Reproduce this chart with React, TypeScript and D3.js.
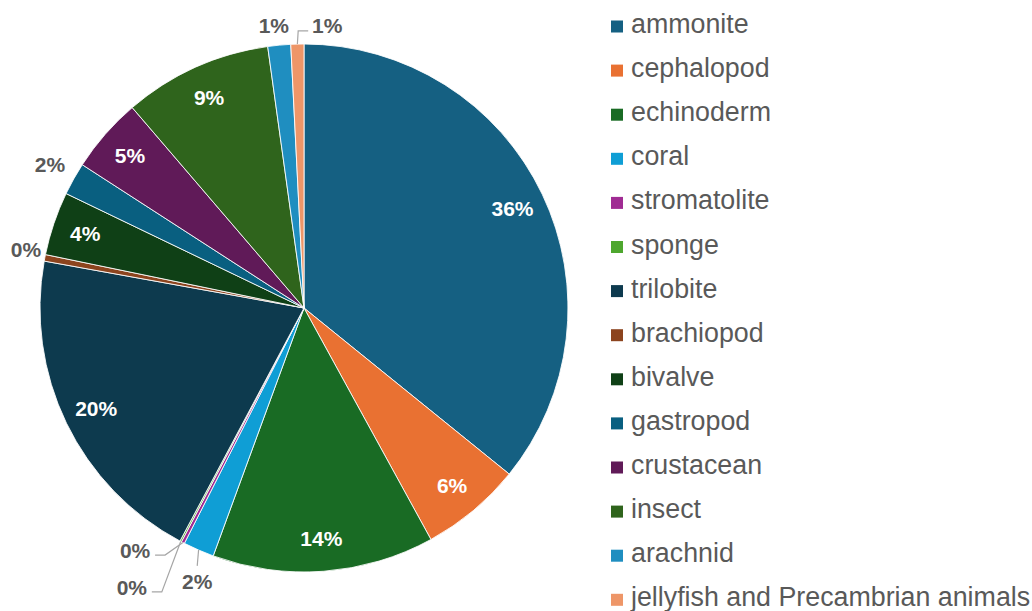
import React from "react";
import * as d3 from "d3";

// Fossil finds by group, in percent of all specimens
const categories = [
  "ammonite",
  "cephalopod",
  "echinoderm",
  "coral",
  "stromatolite",
  "sponge",
  "trilobite",
  "brachiopod",
  "bivalve",
  "gastropod",
  "crustacean",
  "insect",
  "arachnid",
  "jellyfish and Precambrian animals",
];

const shares = [35.9, 6.2, 13.6, 1.9, 0.2, 0.1, 20.1, 0.4, 3.9, 2.0, 4.6, 9.1, 1.4, 0.8];

const sliceColors = [
  "#156082",
  "#E97132",
  "#196B24",
  "#0F9ED5",
  "#A02B93",
  "#4EA72E",
  "#0D3A4E",
  "#8C441E",
  "#0F4016",
  "#095F80",
  "#601A58",
  "#2F641C",
  "#1F8EC0",
  "#EE9668",
];

// Label placement: null = inside the slice; otherwise polar spot (degrees clockwise from 12 o'clock, px from centre)
type Spot = { angle: number; dist: number; leader: boolean } | null;
const labelSpots: Spot[] = [
  null,
  null,
  null,
  { angle: 201.3, dist: 294, leader: true },
  { angle: 214.8, dist: 296, leader: true },
  { angle: 211.6, dist: 328.6, leader: true },
  null,
  { angle: 281.8, dist: 284, leader: false },
  null,
  { angle: 299.4, dist: 291.5, leader: false },
  null,
  null,
  { angle: 353.9, dist: 283.6, leader: false },
  { angle: 4.7, dist: 283, leader: true },
];

const W = 1032;
const H = 611;
const CX = 304;
const CY = 308;
const R = 264;
const INNER_LABEL_R = 231;
const FONT = "'Liberation Sans', Arial, Helvetica, sans-serif";
const GREY = "#595959";

type Datum = { name: string; value: number; color: string; spot: Spot };

const rows: Datum[] = categories.map((name, i) => ({
  name,
  value: shares[i],
  color: sliceColors[i],
  spot: labelSpots[i],
}));

const polar = (deg: number, dist: number): [number, number] => {
  const a = (deg * Math.PI) / 180;
  return [CX + dist * Math.sin(a), CY - dist * Math.cos(a)];
};

export default function App() {
  const total = d3.sum(rows, (d) => d.value);
  const pie = d3
    .pie<Datum>()
    .sort(null)
    .value((d) => d.value)
    .startAngle(0)
    .endAngle(2 * Math.PI);
  const arcs = pie(rows);
  const arc = d3.arc<d3.PieArcDatum<Datum>>().innerRadius(0).outerRadius(R);
  const fmt = (v: number) => `${Math.round((v / total) * 100)}%`;

  const legendY = d3
    .scalePoint<string>()
    .domain(categories)
    .range([33, 33 + 44.1 * (categories.length - 1)]);

  const halfW = 15;

  return (
    <div style={{ position: "absolute", left: 0, top: 0, width: W, height: H, background: "#fff" }}>
      <svg width={W} height={H} style={{ display: "block" }} fontFamily={FONT}>
        <rect width={W} height={H} fill="#fff" />
        <g transform={`translate(${CX},${CY})`}>
          {arcs.map((a, i) => (
            <path key={i} d={arc(a) || ""} fill={a.data.color} stroke="#fff" strokeWidth={1} strokeOpacity={0.85} />
          ))}
        </g>

        {/* value labels */}
        {arcs.map((a, i) => {
          const mid = ((a.startAngle + a.endAngle) / 2) * (180 / Math.PI);
          const spot = a.data.spot;
          if (!spot) {
            const [x, y] = polar(mid, INNER_LABEL_R);
            return (
              <text key={i} x={x} y={y} dy="0.35em" textAnchor="middle" fontSize={21} fontWeight="bold" fill="#fff">
                {fmt(a.data.value)}
              </text>
            );
          }
          const [lx, ly] = polar(spot.angle, spot.dist);
          let leader: React.ReactNode = null;
          if (spot.leader) {
            const [px, py] = polar(mid, R);
            let pts: [number, number][];
            if (Math.abs(lx - px) < halfW) {
              pts = [[lx, ly - 16], [px, py]];
            } else if (lx < px) {
              const ax = lx + halfW + 5;
              const ay = ly + 4;
              pts = [[ax, ay], [ax + 10, ay], [px, py]];
            } else {
              const ax = lx - halfW - 4;
              const ay = ly + 5;
              pts = [[ax, ay], [ax - 10, ay], [px, py]];
            }
            leader = (
              <path d={d3.line()(pts) || ""} fill="none" stroke="#A6A6A6" strokeWidth={1.2} />
            );
          }
          return (
            <g key={i}>
              {leader}
              <text x={lx} y={ly} dy="0.35em" textAnchor="middle" fontSize={21} fontWeight="bold" fill={GREY}>
                {fmt(a.data.value)}
              </text>
            </g>
          );
        })}

        {/* legend */}
        <g>
          {rows.map((d, i) => {
            const y = legendY(d.name) as number;
            return (
              <g key={i}>
                <rect x={611} y={y - 12.5} width={12} height={12} fill={d.color} />
                <text x={631} y={y} fontSize={26.8} fill={GREY}>
                  {d.name}
                </text>
              </g>
            );
          })}
        </g>
      </svg>
    </div>
  );
}
